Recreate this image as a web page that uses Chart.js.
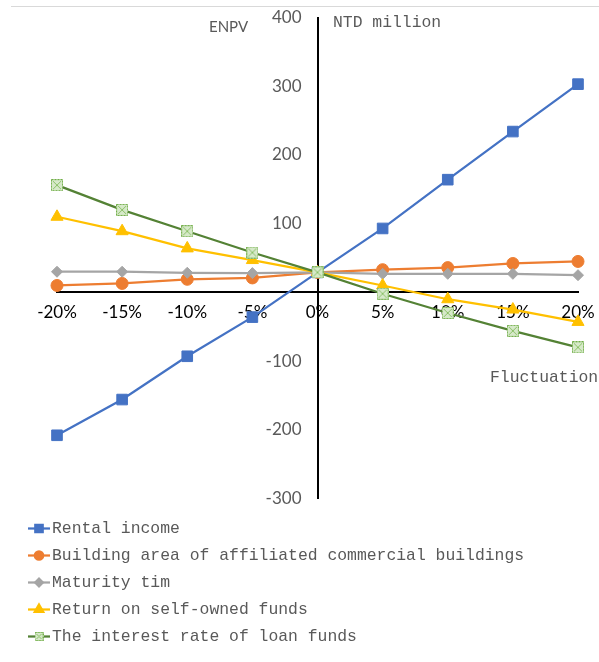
<!DOCTYPE html>
<html>
<head>
<meta charset="utf-8">
<script src="https://cdn.jsdelivr.net/npm/chart.js@4/dist/chart.umd.min.js"></script>
<style>
  html, body { margin: 0; padding: 0; background: #fff; }
  #wrap { width: 599px; height: 662px; position: relative; }
</style>
</head>
<body>
<div id="wrap"><canvas id="c" width="599" height="662"></canvas></div>
<script>
const categories = ['-20%', '-15%', '-10%', '-5%', '0%', '5%', '10%', '15%', '20%'];
const rentalIncome = [-208, -156, -93, -36, 29, 93, 164, 234, 303];
const buildingArea = [10, 13, 19, 21, 29, 33, 36, 42, 45];
const maturityTime = [30, 30, 28.5, 28, 29, 27, 27, 27, 25];
const returnOnFunds = [110, 89, 64, 47, 29, 10, -10, -25, -43];
const loanInterest = [156, 120, 89, 58, 29, -2, -30, -56, -80];
const seriesNames = ['Rental income', 'Building area of affiliated commercial buildings', 'Maturity tim', 'Return on self-owned funds', 'The interest rate of loan funds'];
const yTicks = [-300, -200, -100, 100, 200, 300, 400];

// custom marker for the loan-interest series
function makeBoxX(size) {
  const cv = document.createElement('canvas');
  cv.width = size; cv.height = size;
  const g = cv.getContext('2d');
  g.fillStyle = '#d6e9c9';
  g.fillRect(0, 0, size, size);
  g.strokeStyle = '#70ad47';
  g.lineWidth = 1;
  g.setLineDash([2, 1]);
  g.strokeRect(0.5, 0.5, size - 1, size - 1);
  g.setLineDash([]);
  g.strokeStyle = '#8cc168';
  g.beginPath();
  g.moveTo(2, 2); g.lineTo(size - 2, size - 2);
  g.moveTo(size - 2, 2); g.lineTo(2, size - 2);
  g.stroke();
  return cv;
}
const boxX = makeBoxX(12);
const boxXSmall = makeBoxX(9);

const MONO = '"Liberation Mono", "DejaVu Sans Mono", monospace';
const SANS = 'Lato, "Liberation Sans", sans-serif';

const extras = {
  id: 'extras',
  beforeDraw(chart) {
    const ctx = chart.ctx;
    ctx.save();
    ctx.strokeStyle = '#d9d9d9';
    ctx.lineWidth = 1;
    ctx.beginPath();
    ctx.moveTo(11, 6.5); ctx.lineTo(599, 6.5);
    ctx.stroke();
    ctx.restore();
  },
  afterDraw(chart) {
    const ctx = chart.ctx;
    ctx.save();
    ctx.fillStyle = '#595959';
    ctx.textBaseline = 'middle';
    ctx.textAlign = 'left';
    ctx.font = '15px ' + SANS;
    ctx.fillText('ENPV', 209, 27);
    ctx.font = '16.4px ' + MONO;
    ctx.fillText('NTD million', 333, 23);
    ctx.fillText('Fluctuation', 490, 378);

    // legend
    chart.data.datasets.forEach((ds, i) => {
      const y = 528.5 + i * 27;
      ctx.strokeStyle = ds.borderColor;
      ctx.lineWidth = 2.25;
      ctx.beginPath();
      ctx.moveTo(28, y); ctx.lineTo(50, y);
      ctx.stroke();
      const ps = ds.pointStyle;
      if (ps instanceof HTMLCanvasElement) {
        ctx.drawImage(boxXSmall, 39 - 4.5, y - 4.5);
      } else {
        ctx.fillStyle = ds.pointBackgroundColor;
        ctx.strokeStyle = ds.pointBorderColor;
        Chart.helpers.drawPoint(ctx, { pointStyle: ps, radius: ds.pointRadius * 0.7, rotation: 0, borderWidth: 1 }, 39, y);
      }
      ctx.fillStyle = '#595959';
      ctx.font = '16.4px ' + MONO;
      ctx.textBaseline = 'middle';
      ctx.fillText(seriesNames[i], 52, y);
    });
    ctx.restore();
  }
};

function ds(idx, data, color, style, radius, order) {
  return {
    label: seriesNames[idx],
    data: data,
    borderColor: color,
    backgroundColor: color,
    pointBackgroundColor: color,
    pointBorderColor: color,
    pointStyle: style,
    pointRadius: radius,
    pointBorderWidth: 1,
    borderWidth: 2.25,
    tension: 0,
    order: order
  };
}

new Chart(document.getElementById('c'), {
  type: 'line',
  data: {
    labels: categories,
    datasets: [
      ds(0, rentalIncome, '#4472c4', 'rect', 7.5, 4),
      ds(1, buildingArea, '#ed7d31', 'circle', 6, 3),
      ds(2, maturityTime, '#a5a5a5', 'rectRot', 5.5, 2),
      ds(3, returnOnFunds, '#ffc000', 'triangle', 7, 1),
      ds(4, loanInterest, '#548235', boxX, 6, 0)
    ]
  },
  options: {
    responsive: false,
    animation: false,
    devicePixelRatio: 1,
    layout: { padding: { left: 57, right: 21, top: 17.5, bottom: 163.5 } },
    plugins: { legend: { display: false }, tooltip: { enabled: false } },
    scales: {
      x: {
        type: 'category',
        offset: false,
        position: { y: 0 },
        afterFit: (s) => { s.paddingLeft = 0; s.paddingRight = 0; s.paddingTop = 0; s.paddingBottom = 0; },
        grid: { display: false, drawTicks: false },
        border: { display: true, color: '#000', width: 2 },
        ticks: { color: '#000', font: { family: SANS, size: 17 }, padding: 10, maxRotation: 0, autoSkip: false }
      },
      y: {
        type: 'linear',
        min: -300,
        max: 400,
        position: 'center',
        afterBuildTicks: (axis) => { axis.ticks = yTicks.map(v => ({ value: v })); },
        afterFit: (s) => { s.paddingTop = 0; s.paddingBottom = 0; s.paddingLeft = 0; s.paddingRight = 0; },
        grid: { display: false, drawTicks: false },
        border: { display: true, color: '#000', width: 2 },
        ticks: { color: '#595959', font: { family: SANS, size: 17 }, padding: 16 }
      }
    }
  },
  plugins: [extras]
});
</script>
</body>
</html>
